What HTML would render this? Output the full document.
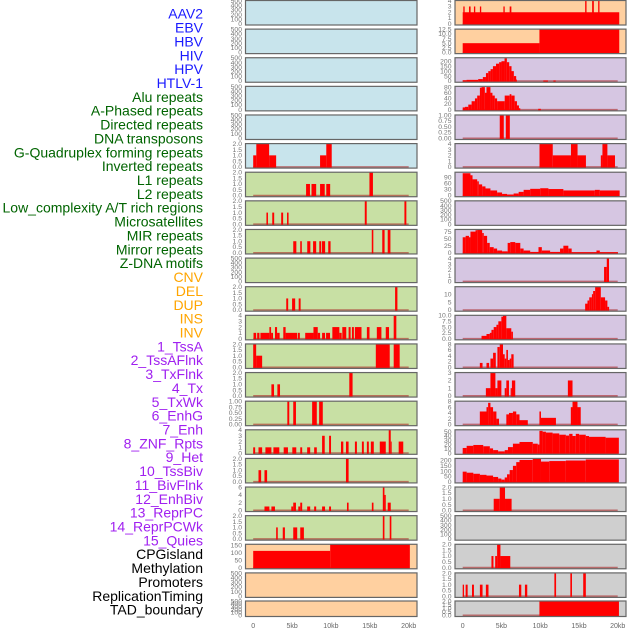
<!DOCTYPE html>
<html><head><meta charset="utf-8"><style>
html,body{margin:0;padding:0;background:#fff;}
svg{display:block;font-family:"Liberation Sans","DejaVu Sans",sans-serif;}
</style></head><body>
<svg id="chart" width="630" height="630" viewBox="0 0 630 630" xmlns="http://www.w3.org/2000/svg">
<g id="labels"></g>
<g id="panels"></g>
<g id="xaxes"></g>
</svg>
<script>
const trackNames = ["AAV2","EBV","HBV","HIV","HPV","HTLV-1","Alu repeats","A-Phased repeats","Directed repeats","DNA transposons","G-Quadruplex forming repeats","Inverted repeats","L1 repeats","L2 repeats","Low_complexity A/T rich regions","Microsatellites","MIR repeats","Mirror repeats","Z-DNA motifs","CNV","DEL","DUP","INS","INV","1_TssA","2_TssAFlnk","3_TxFlnk","4_Tx","5_TxWk","6_EnhG","7_Enh","8_ZNF_Rpts","9_Het","10_TssBiv","11_BivFlnk","12_EnhBiv","13_ReprPC","14_ReprPCWk","15_Quies","CPGisland","Methylation","Promoters","ReplicationTiming","TAD_boundary"];
const labelColors = ["#1a1aff","#1a1aff","#1a1aff","#1a1aff","#1a1aff","#1a1aff","#006400","#006400","#006400","#006400","#006400","#006400","#006400","#006400","#006400","#006400","#006400","#006400","#006400","#ffa500","#ffa500","#ffa500","#ffa500","#ffa500","#a020f0","#a020f0","#a020f0","#a020f0","#a020f0","#a020f0","#a020f0","#a020f0","#a020f0","#a020f0","#a020f0","#a020f0","#a020f0","#a020f0","#a020f0","#000","#000","#000","#000","#000"];
const trackYmax = [500,500,500,500,500,2,2,2,2,500,2,4,2,2,1,4,2,6,2,155,500,500,4,12.5,233,82,1,4,114,500,82,4,14.6,10,8,3,8,54,218,2,500,2,2,2];
const trackTicks = [
 [0,100,200,300,400,500],[0,100,200,300,400,500],[0,100,200,300,400,500],[0,100,200,300,400,500],[0,100,200,300,400,500],
 [0,0.5,1,1.5,2],[0,0.5,1,1.5,2],[0,0.5,1,1.5,2],[0,0.5,1,1.5,2],[0,100,200,300,400,500],[0,0.5,1,1.5,2],[0,1,2,3,4],
 [0,0.5,1,1.5,2],[0,0.5,1,1.5,2],[0,0.25,0.5,0.75,1],[0,1,2,3,4],[0,0.5,1,1.5,2],[0,2,4,6],[0,0.5,1,1.5,2],
 [0,50,100,150],[0,100,200,300,400,500],[0,100,200,300,400,500],
 [0,1,2,3,4],[0,2.5,5,7.5,10,12.5],[0,50,100,150,200],[0,20,40,60,80],[0,0.25,0.5,0.75,1],[0,1,2,3,4],[0,30,60,90],
 [0,100,200,300,400,500],[0,25,50,75],[0,1,2,3,4],[0,5,10],[0,2.5,5,7.5,10],[0,2,4,6,8],[0,1,2,3],[0,2,4,6,8],
 [0,10,20,30,40,50],[0,50,100,150,200],[0,0.5,1,1.5,2],[0,100,200,300,400,500],[0,0.5,1,1.5,2],[0,0.5,1,1.5,2],[0,0.5,1,1.5,2]
];
const tickDecimals = [0,0,0,0,0,1,1,1,1,0,1,0,1,1,2,0,1,0,1,0,0,0,0,1,0,0,2,0,0,0,0,0,0,1,0,0,0,0,0,1,0,1,1,1];
const trackSegments = [
 [],[],[],[],[],
 [[0,0.4,1],[0.4,2.05,2],[2.05,2.95,1],[8.6,9.4,1],[9.4,10.1,2]],
 [[6.8,7.3,1],[7.5,8.1,1],[8.6,9.2,1],[9.4,9.9,1],[14.95,15.4,2]],
 [[1.7,1.9,1],[2.45,2.7,1],[3.6,3.85,1],[4.35,4.55,1],[14.35,14.6,2],[19.45,19.7,2]],
 [[5.15,5.55,1],[6.05,6.25,1],[6.95,7.35,1],[7.7,8.1,1],[8.5,8.75,1],[8.85,9.25,1],[9.65,9.95,1],[15.25,15.45,2],[16.6,16.9,2],[17.3,17.65,2]],
 [],
 [[4.25,4.5,1],[5.0,5.4,1],[5.85,6.1,1],[18.25,18.55,2]],
 [[0.04,0.38,1],[0.51,0.8,1],[0.93,2.08,1],[2.08,2.3,2],[2.3,2.55,1],[2.8,3.07,2],[3.07,3.4,1],[3.87,4.17,2],[4.17,5.66,1],[5.75,6.0,1],[6.69,7.75,1],[7.75,8.3,2],[8.3,8.6,1],[8.86,9.24,1],[9.37,9.88,1],[10.18,11.08,2],[11.08,11.38,1],[11.46,11.97,2],[12.27,12.53,2],[12.7,12.95,2],[13.08,13.93,2],[14.62,14.96,2],[15.9,16.49,2],[17.05,17.47,2],[18.07,18.41,4]],
 [[0,0.38,2],[0.38,1.15,1],[15.77,17.56,2],[18.07,18.84,2]],
 [[2.34,2.68,1],[3.11,3.45,1],[12.36,12.78,2]],
 [[4.39,4.64,1],[5.15,5.5,1],[7.58,8.18,1],[8.48,8.95,1]],
 [[0,0.25,1],[0.68,1.15,1],[1.57,2.34,1],[2.6,3.36,1],[3.92,4.47,1],[5.03,5.54,1],[6.05,6.3,1],[6.94,7.33,1],[7.84,8.18,1],[8.86,9.2,3],[9.76,10.01,3],[11.29,11.59,2],[11.93,12.27,2],[13.08,13.34,2],[13.98,14.23,2],[14.62,14.87,2],[15.13,15.51,2],[16.28,17.05,2],[17.43,17.69,4],[17.69,17.81,2],[18.71,19.3,2]],
 [[0.68,1.02,1],[1.45,1.79,1],[11.93,12.27,2]],
 [[1.45,2.08,1],[2.34,2.8,1],[4.9,5.15,1],[5.15,5.5,2],[5.8,6.05,1],[6.05,6.3,2],[6.94,7.33,1],[7.84,8.1,1],[8.86,9.24,1],[9.76,10.01,1],[12.06,12.27,2],[15.26,15.47,2],[16.67,16.88,6],[16.88,17.05,4],[17.3,17.69,2]],
 [[2.95,3.16,1],[3.8,4.08,1],[5.15,5.66,1],[6.05,6.52,1],[16.67,16.88,2],[17.56,17.77,2]],
 [[0,9.9,112],[9.9,20.15,155]],
 [],[],
 [[0,20.2,2],[0.08,0.25,3],[0.81,1.02,3],[1.45,1.62,3],[2.22,2.39,3],[5.25,5.42,3],[6.06,6.28,3],[15.8,15.98,4],[16.7,16.92,4],[17.48,17.65,4]],
 [[0,9.9,5],[9.9,20.2,12.5]],
 [[0,0.5,8],[0.5,2.0,12],[2.0,2.6,20],[2.6,3.0,40],[3.0,3.3,80],[3.3,3.6,100],[3.6,3.9,120],[3.9,4.3,150],[4.3,4.7,175],[4.7,5.0,190],[5.0,5.4,200],[5.4,5.7,230],[5.7,6.0,190],[6.0,6.3,150],[6.3,6.6,100],[6.6,6.9,50],[6.9,7.0,15],[10.4,11.0,6],[11.7,12.0,6]],
 [[0,0.3,8],[0.3,0.72,10],[0.72,1.15,18],[1.15,1.58,30],[1.58,1.87,40],[1.87,2.22,50],[2.22,2.43,78],[2.43,2.86,80],[2.86,3.07,60],[3.07,3.58,80],[3.58,3.84,60],[3.84,4.14,50],[4.14,4.44,40],[4.44,5.42,30],[5.42,6.06,50],[6.06,6.28,55],[6.28,6.7,50],[6.7,7.0,30],[7.0,7.26,15],[7.26,7.43,5],[9.74,10.08,3]],
 [[4.78,5.3,1],[5.56,6.08,1]],
 [[9.91,11.62,4],[11.62,13.97,2],[13.97,14.82,4],[14.82,15.9,2],[17.82,18.03,2],[18.03,18.67,4],[18.67,19.65,2]],
 [[0,1.0,110],[1.0,1.27,100],[1.27,1.87,80],[1.87,2.08,70],[2.08,2.51,55],[2.51,2.94,45],[2.94,3.58,35],[3.58,4.44,25],[4.44,5.08,15],[5.08,5.72,8],[5.72,6.57,5],[6.57,7.22,10],[7.22,7.86,18],[7.86,8.71,28],[8.71,10.0,33],[10.0,11.06,36],[11.06,12.99,32],[12.99,17.05,25],[17.05,17.69,28],[17.69,20.25,25]],
 [],
 [[0,0.38,55],[0.38,0.81,60],[0.81,1.0,55],[1.0,1.65,75],[1.65,1.87,80],[1.87,2.51,82],[2.51,2.72,70],[2.72,3.15,60],[3.15,3.49,35],[3.49,4.0,20],[4.0,4.44,15],[4.44,5.08,8],[5.08,5.8,5],[5.8,6.14,35],[6.14,6.78,38],[6.78,7.43,35],[7.43,7.86,15],[7.86,8.71,8],[8.71,9.78,3],[9.78,10.21,20],[10.21,11.28,8],[11.28,12.56,3],[12.56,12.99,15],[12.99,13.63,25],[13.63,14.06,15],[14.06,17.26,2],[17.26,17.69,8],[17.69,20.04,2]],
 [[18.24,18.59,2.5],[18.59,18.88,4]],
 [[15.8,16.1,4],[16.1,16.33,6],[16.33,16.67,8],[16.67,16.83,10],[16.83,17.09,12],[17.09,17.82,14.6],[17.82,18.37,8],[18.37,18.67,6],[18.67,18.89,2]],
 [[2.43,3.07,1.2],[3.07,3.5,2],[3.5,3.71,2.5],[3.71,4.0,3.8],[4.0,4.35,5],[4.35,4.6,6],[4.6,4.99,7.5],[4.99,5.2,9.5],[5.2,5.63,10],[5.63,6.27,4.5],[6.27,6.48,3]],
 [[2.21,2.56,1.5],[3.07,3.41,1.5],[3.58,3.92,3],[3.92,4.27,5],[4.48,4.78,7],[4.78,5.2,8],[5.2,5.42,4.5],[5.42,5.63,3],[5.63,5.84,6],[5.84,6.06,2.5],[6.06,6.27,3],[6.27,6.57,4.5]],
 [[2.99,3.58,1],[3.58,4.22,3],[4.22,4.48,1],[4.48,4.99,2],[5.42,5.63,1],[5.63,5.97,2],[6.19,6.35,1],[6.35,6.78,2],[13.57,14.17,2]],
 [[2.21,3.07,4.5],[3.07,3.28,6],[3.28,3.58,7.5],[3.58,3.92,6],[3.92,4.35,4.5],[4.35,4.69,2],[5.63,5.97,3.5],[5.97,6.48,4],[6.48,6.91,4.5],[6.91,7.33,3.5],[7.33,8.4,1.5],[9.9,10.1,4.5],[10.1,12.03,2.3],[13.95,14.17,6],[14.17,14.81,8],[14.81,15.23,6]],
 [[0,0.51,12],[0.51,1.37,17],[1.37,2.65,19],[2.65,3.5,16],[3.5,3.92,11],[3.92,4.57,7],[4.57,5.42,4],[5.42,5.84,7],[5.84,6.48,14],[6.48,7.33,22],[7.33,9.04,26],[9.04,9.68,22],[9.68,9.9,20],[9.9,10.31,52],[10.31,10.74,50],[10.74,11.6,48],[11.6,12.46,46],[12.46,13.31,43],[13.31,13.74,41],[13.74,14.17,45],[14.17,14.59,40],[14.59,15.02,45],[15.02,15.88,43],[15.88,16.3,40],[16.3,18.44,38],[18.44,20.15,36]],
 [[0,0.51,95],[0.51,1.37,85],[1.37,2.22,75],[2.22,3.07,65],[3.07,3.92,58],[3.92,4.57,45],[4.57,4.99,30],[4.99,5.42,20],[5.42,5.72,40],[5.72,6.06,70],[6.06,6.48,110],[6.48,6.91,150],[6.91,7.33,185],[7.33,9.04,205],[9.04,10.1,215],[10.1,11.17,190],[11.17,13.31,195],[13.31,15.88,200],[15.88,20.15,210]],
 [[4.0,4.78,1],[4.78,5.46,2],[5.46,6.31,1]],
 [],
 [[3.71,3.97,1],[4.19,4.44,1],[4.44,4.87,2],[4.87,6.14,1]],
 [[0,0.17,1],[0.38,0.64,1],[1.2,1.45,1],[2.22,2.56,1],[2.99,3.33,1],[7.26,7.56,1],[8.03,8.33,1],[11.83,12.05,2],[13.89,14.1,2],[15.55,15.89,2]],
 [[9.9,20.16,2]]
];
const xTickValues = [0,5,10,15,20];
const xTickLabels = ["0","5kb","10kb","15kb","20kb"];

const NS = "http://www.w3.org/2000/svg";
function mk(tag, attrs, parent){const e=document.createElementNS(NS,tag);for(const k in attrs)e.setAttribute(k,attrs[k]);parent.appendChild(e);return e;}
function slug(s){return s.toLowerCase().replace(/[^a-z0-9]+/g,'-').replace(/^-|-$/g,'');}

const labelsG=document.getElementById('labels');
trackNames.forEach((n,i)=>{
  const t=mk('text',{x:203,y:(15+13.86*i).toFixed(1),'text-anchor':'end','dominant-baseline':'middle','font-size':'14',fill:labelColors[i]},labelsG);
  t.textContent=n;
  
  
});

const cols=[{L:245.5,W:171.5},{L:455,W:171}];
function bgColor(i){
  if(i<6) return '#c8e4ec';
  if(i<19) return '#c8e0a4';
  if(i<24) return '#ffd0a0';
  if(i<39) return '#d6c6e2';
  return '#cfcfcf';
}
function xScale(col,kb){const c=cols[col];const x0=c.L+7.7, x20=c.L+c.W-8.3;return x0+(x20-x0)*kb/20;}

const panelsG=document.getElementById('panels');
for(let i=0;i<trackNames.length;i++){
  const col=i<22?0:1, row=i%22;
  const c=cols[col];
  const top=row===21?601:0.5+row*28.62;
  const h=row===21?15.5:24.5;
  const bottom=top+h;
  const ymax=trackYmax[i];
  const yScale=v=>bottom-1.2-(v/ymax)*(h-1.4);
  const g=mk('g',{},panelsG);
  
  
  const bg=mk('rect',{x:c.L,y:top,width:c.W,height:h,fill:bgColor(i)},g);
  
  
  if(trackSegments[i].length){
    const bl=mk('line',{x1:xScale(col,0),x2:xScale(col,20),y1:yScale(0),y2:yScale(0),stroke:'rgba(170,40,40,0.6)','stroke-width':1.6},g);
    
    
  }
  trackSegments[i].forEach(s=>{
    const x1=xScale(col,s[0]), x2=xScale(col,s[1]);
    const y=yScale(s[2]);
    const r=mk('rect',{x:x1.toFixed(2),y:y.toFixed(2),width:Math.max(0.8,x2-x1).toFixed(2),height:(yScale(0)-y+0.8).toFixed(2),fill:'#ff0000'},g);
    
    
  });
  mk('rect',{x:c.L,y:top,width:c.W,height:h,fill:'none',stroke:'#666','stroke-width':1.2},g);
  trackTicks[i].forEach(t=>{
    const ty=yScale(t);
    const tx=mk('text',{x:c.L-3.5,y:(ty+2.2).toFixed(1),'text-anchor':'end','font-size':'6.8',fill:'#777'},g);
    tx.textContent=t.toFixed(tickDecimals[i]);
    
    
  });
}

const xg=document.getElementById('xaxes');
[0,1].forEach(col=>{
  xTickValues.forEach((v,k)=>{
    const t=mk('text',{x:xScale(col,v).toFixed(1),y:628,'text-anchor':'middle','font-size':'7',fill:'#666'},xg);
    t.textContent=xTickLabels[k];
    
    
  });
});
</script>
</body></html>
